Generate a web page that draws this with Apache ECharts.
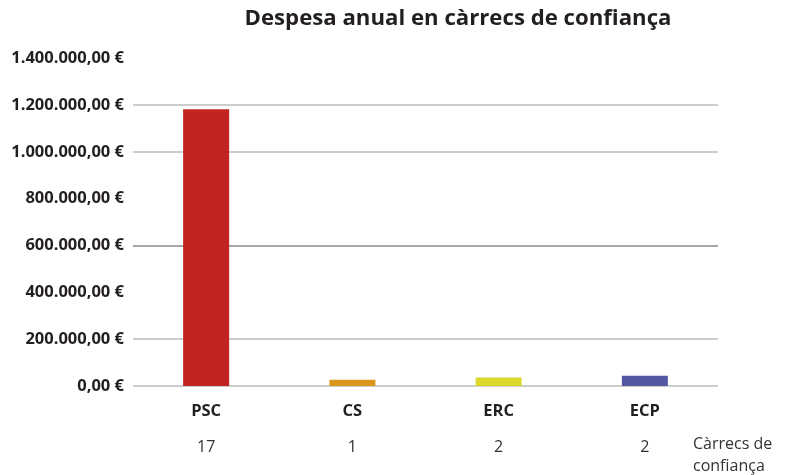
<!DOCTYPE html>
<html>
<head>
<meta charset="utf-8">
<script src="https://cdn.jsdelivr.net/npm/echarts@6/dist/echarts.min.js"></script>
<style>html,body{margin:0;padding:0;background:#fff}#c{width:800px;height:475px}</style>
</head>
<body>
<div id="c"></div>
<script>
const categories = ['PSC', 'CS', 'ERC', 'ECP'];
const despesa = [1182000, 27000, 36000, 44000];
const carrecs = [17, 1, 2, 2];
const barColors = ['#c12421', '#d8961a', '#dcd82c', '#5358a3'];
const yTicks = [0, 200000, 400000, 600000, 800000, 1000000, 1200000, 1400000];

function fmt(v) {
  const s = Math.round(v).toString().replace(/\B(?=(\d{3})+(?!\d))/g, '.');
  return s + ',00 €';
}

const chart = echarts.init(document.getElementById('c'));
chart.setOption({
  backgroundColor: '#ffffff',
  animation: false,
  textStyle: { fontFamily: 'Open Sans' },
  title: [{
    text: 'Despesa anual en càrrecs de confiança',
    left: 453, top: 3, textAlign: 'center',
    textStyle: { fontSize: 22.2, fontWeight: 'bold', color: '#231f20', fontFamily: 'Open Sans' }
  }, {
    text: 'Càrrecs de\nconfiança',
    left: 688, top: 428,
    textStyle: { fontSize: 16, fontWeight: 'normal', color: '#333', lineHeight: 22, fontFamily: 'Open Sans' }
  }],
  grid: { left: 133, right: 82, top: 58.2, bottom: 89, containLabel: false },
  xAxis: {
    type: 'category',
    data: categories,
    axisLine: { show: false },
    axisTick: { show: false },
    axisLabel: {
      margin: 9,
      formatter: function (v, i) { return '{a|' + v + '}\n{b|' + carrecs[i] + '}'; },
      rich: {
        a: { fontSize: 16.5, fontWeight: 'bold', color: '#231f20', lineHeight: 32, fontFamily: 'Open Sans' },
        b: { fontSize: 16, color: '#333', lineHeight: 40, fontFamily: 'Open Sans' }
      }
    }
  },
  yAxis: {
    type: 'value',
    min: yTicks[0], max: yTicks[yTicks.length - 1], interval: 200000,
    axisLine: { show: false },
    axisTick: { show: false },
    axisLabel: {
      margin: 9,
      formatter: fmt,
      fontSize: 16.5, fontWeight: 'bold', color: '#231f20', fontFamily: 'Open Sans'
    },
    splitLine: {
      lineStyle: {
        width: 1.5,
        color: ['#bdbdbd', '#bdbdbd', 'rgba(0,0,0,0)', '#8a8a8a', 'rgba(0,0,0,0)', '#bdbdbd', '#bdbdbd', 'rgba(0,0,0,0)']
      }
    }
  },
  series: [{
    type: 'bar',
    barWidth: 46,
    data: despesa.map((v, i) => ({ value: v, itemStyle: { color: barColors[i] } }))
  }]
});
</script>
</body>
</html>
